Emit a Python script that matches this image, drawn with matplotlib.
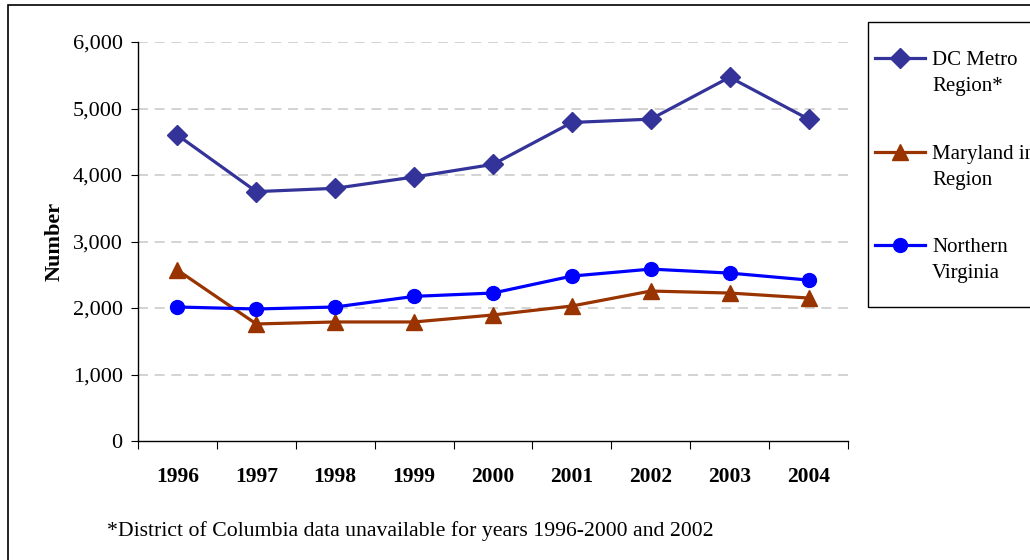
import matplotlib.pyplot as plt
from matplotlib.patches import Rectangle
from matplotlib.lines import Line2D

plt.rcParams['font.family'] = ['Liberation Serif', 'DejaVu Serif']

years = ["1996", "1997", "1998", "1999", "2000", "2001", "2002", "2003", "2004"]
dc_metro = [4600, 3750, 3800, 3970, 4160, 4790, 4840, 5470, 4840]
maryland = [2570, 1760, 1790, 1790, 1895, 2030, 2255, 2225, 2150]
n_virginia = [2015, 1985, 2015, 2175, 2225, 2480, 2585, 2525, 2420]

series = [
    ("DC Metro\nRegion*", dc_metro, "#333399", "D", 10),
    ("Maryland in\nRegion", maryland, "#993300", "^", 11),
    ("Northern\nVirginia", n_virginia, "#0000FF", "o", 10),
]

fig = plt.figure(figsize=(10.3, 5.6), dpi=100)
ax = fig.add_axes([138 / 1030, 1 - 441 / 560, 710 / 1030, 399 / 560])

x = list(range(len(years)))
for label, vals, color, marker, ms in series:
    ax.plot(x, vals, color=color, lw=2.3, marker=marker, markersize=ms,
            markeredgecolor=color, markerfacecolor=color)

ax.set_xlim(-0.5, len(years) - 0.5)
ax.set_ylim(0, 6000)
ax.set_yticks(range(0, 6001, 1000))
ax.set_yticklabels([f"{v:,}" for v in range(0, 6001, 1000)], fontsize=16)
for v in range(1000, 6001, 1000):
    ax.axhline(v, color="#cccccc", lw=1.2, dashes=(6, 4), zorder=0)

ax.set_xticks([i - 0.5 for i in range(len(years) + 1)])
ax.set_xticklabels([])
ax.set_xticks(x, minor=True)
ax.set_xticklabels(years, minor=True, fontsize=15.5, fontweight="bold")
ax.tick_params(axis="x", which="minor", length=0, pad=19)
ax.tick_params(axis="x", which="major", length=6, direction="out")
ax.tick_params(axis="y", length=5, direction="out", pad=6)

for s in ["top", "right"]:
    ax.spines[s].set_visible(False)
ax.spines["left"].set_linewidth(1.0)
ax.spines["bottom"].set_linewidth(1.0)

ax.set_ylabel("Number", fontsize=16, fontweight="bold", labelpad=6)

# outer chart border (right/bottom edges fall outside the image)
fig.patches.append(Rectangle((8 / 1030, -0.1), 1.2, 1.1 - 5 / 560,
                             transform=fig.transFigure, fill=False,
                             edgecolor="black", lw=1.2))

# legend box, cut off at the right edge
fig.patches.append(Rectangle((868 / 1030, 1 - 307 / 560), 0.5, 285 / 560,
                             transform=fig.transFigure, fill=False,
                             edgecolor="black", lw=1.0))
for i, (label, vals, color, marker, ms) in enumerate(series):
    yl = 1 - (58 + i * 93.5) / 560
    fig.lines.append(Line2D([875 / 1030, 925 / 1030], [yl, yl],
                            transform=fig.transFigure, color=color, lw=2.3))
    fig.lines.append(Line2D([900 / 1030], [yl], transform=fig.transFigure,
                            color=color, marker=marker, markersize=ms))
    fig.text(932 / 1030, yl + 7 / 560, label, fontsize=15, va="top",
             ha="left", linespacing=1.5)

fig.text(107 / 1030, 1 - 531 / 560,
         "*District of Columbia data unavailable for years 1996-2000 and 2002",
         fontsize=15.7, va="center", ha="left")

fig.savefig("out.png", dpi=100)
